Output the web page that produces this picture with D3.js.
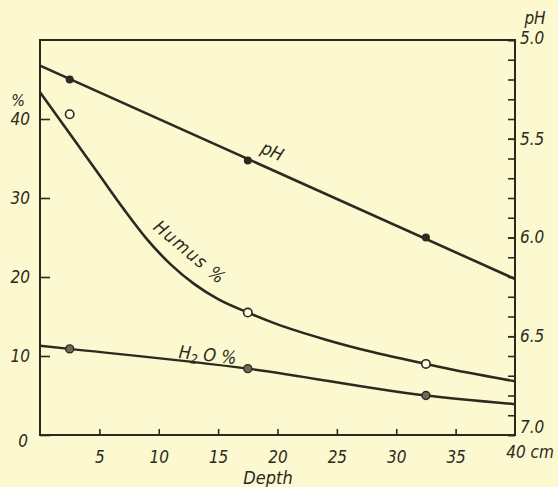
<!DOCTYPE html>
<html><head><meta charset="utf-8">
<script src="https://cdn.jsdelivr.net/npm/d3@7"></script>
<style>
html,body{margin:0;padding:0;background:#fcf8d0;}
svg{display:block;}
text{font-family:"DejaVu Sans Condensed","Liberation Sans Narrow","DejaVu Sans",sans-serif;font-style:italic;fill:#2b2a20;}
</style></head>
<body>
<script>
// Depth (cm) positions of the sampled layers
const sampleDepths = [2.5, 17.5, 32.5];
// pH line (straight) and measured points
const phLineDepth = [0, 40];
const phLineValues = [5.13, 6.21];
const phPoints = [5.20, 5.61, 6.00];
// Humus % fitted curve and measured points
const humusCurveDepth = [0, 5, 7, 9, 11, 13, 15, 17.5, 20, 24, 28, 32.5, 36, 40];
const humusCurveValues = [43.4, 32.9, 28.7, 24.8, 21.6, 19.1, 17.2, 15.5, 14.0, 12.1, 10.5, 9.0, 7.9, 6.8];
const humusPoints = [40.6, 15.5, 9.0];
// H2O % curve and measured points
const waterCurveDepth = [0, 2.5, 17.5, 32.5, 40];
const waterCurveValues = [11.3, 10.9, 8.4, 5.0, 3.9];
const waterPoints = [10.9, 8.4, 5.0];
// Tick labels
const xTicks = [5, 10, 15, 20, 25, 30, 35];
const leftTicks = [0, 10, 20, 30, 40];
const rightMajor = [5.0, 5.5, 6.0, 6.5, 7.0];
const rightMinor = d3.range(50, 71).map(v => v / 10);

const W = 558, H = 487;
const L = 40, R = 515, T = 40, B = 435;
const ink = "#2b2a20";

const svg = d3.select("body").append("svg").attr("width", W).attr("height", H);

const x = d3.scaleLinear().domain([0, 40]).range([L, R]);
const y = d3.scaleLinear().domain([0, 50]).range([B, T]);
const yph = d3.scaleLinear().domain([5, 7]).range([T, B]);

// frame
svg.append("rect").attr("x", L).attr("y", T).attr("width", R - L).attr("height", B - T)
  .attr("fill", "none").attr("stroke", ink).attr("stroke-width", 2);

// left axis
const ga = svg.append("g").attr("transform", `translate(${L},0)`)
  .call(d3.axisLeft(y).tickValues(leftTicks).tickSizeInner(-10).tickSizeOuter(0).tickPadding(10).tickFormat(d3.format("d")));
ga.select(".domain").remove();
ga.selectAll("line").attr("stroke", ink).attr("stroke-width", 1.6);
ga.selectAll("text").attr("font-size", 17).style("font-family", null);
ga.selectAll(".tick").filter(d => d === 0).select("text").attr("dy", "0.7em").attr("x", -12);

// bottom axis
const gb = svg.append("g").attr("transform", `translate(0,${B})`)
  .call(d3.axisBottom(x).tickValues(xTicks).tickSizeInner(-6).tickSizeOuter(0).tickPadding(16).tickFormat(d3.format("d")));
gb.select(".domain").remove();
gb.selectAll("line").attr("stroke", ink).attr("stroke-width", 1.6);
gb.selectAll("text").attr("font-size", 17).style("font-family", null);

// right axis
const gr = svg.append("g").attr("transform", `translate(${R},0)`);
gr.call(d3.axisRight(yph).tickValues(rightMinor).tickSizeInner(-7).tickSizeOuter(0).tickFormat(""));
gr.select(".domain").remove();
gr.selectAll("line").attr("stroke", ink).attr("stroke-width", 1.6);
const gr2 = svg.append("g").attr("transform", `translate(${R},0)`)
  .call(d3.axisRight(yph).tickValues(rightMajor).tickSizeInner(-7).tickSizeOuter(0).tickPadding(5).tickFormat(d3.format(".1f")));
gr2.select(".domain").remove();
gr2.selectAll("line").attr("stroke", ink).attr("stroke-width", 1.6);
gr2.selectAll("text").attr("font-size", 17).style("font-family", null);
gr2.selectAll(".tick").filter(d => d === 7.0).select("text").attr("dy", "-0.15em");
gr2.selectAll(".tick").filter(d => d === 5.0).select("text").attr("dy", "0.2em");

// axis titles
svg.append("text").attr("x", 18).attr("y", 106).attr("text-anchor", "middle").attr("font-size", 16).text("%");
svg.append("text").attr("x", 535).attr("y", 24).attr("text-anchor", "middle").attr("font-size", 17).text("pH");
svg.append("text").attr("x", 268).attr("y", 484).attr("text-anchor", "middle").attr("font-size", 18).text("Depth");
svg.append("text").attr("x", 530).attr("y", 458).attr("text-anchor", "middle").attr("font-size", 17).text("40 cm");

// lines
const lineXY = d3.line().x(d => d[0]).y(d => d[1]).curve(d3.curveMonotoneX);
svg.append("path")
  .attr("d", d3.line()(phLineDepth.map((d, i) => [x(d), yph(phLineValues[i])])))
  .attr("fill", "none").attr("stroke", ink).attr("stroke-width", 2.6);
svg.append("path")
  .attr("d", lineXY(humusCurveDepth.map((d, i) => [x(d), y(humusCurveValues[i])])))
  .attr("fill", "none").attr("stroke", ink).attr("stroke-width", 2.6);
svg.append("path")
  .attr("d", lineXY(waterCurveDepth.map((d, i) => [x(d), y(waterCurveValues[i])])))
  .attr("fill", "none").attr("stroke", ink).attr("stroke-width", 2.4);

// points
svg.selectAll(".ph").data(phPoints).join("circle")
  .attr("cx", (d, i) => x(sampleDepths[i])).attr("cy", d => yph(d)).attr("r", 4)
  .attr("fill", ink);
svg.selectAll(".hu").data(humusPoints).join("circle")
  .attr("cx", (d, i) => x(sampleDepths[i])).attr("cy", d => y(d)).attr("r", 4.2)
  .attr("fill", "#fffbe0").attr("stroke", ink).attr("stroke-width", 1.6);
svg.selectAll(".wa").data(waterPoints).join("circle")
  .attr("cx", (d, i) => x(sampleDepths[i])).attr("cy", d => y(d)).attr("r", 4)
  .attr("fill", "#6b6a58").attr("stroke", ink).attr("stroke-width", 1.4);

// series labels
svg.append("text").attr("transform", "translate(270,157) rotate(23)").attr("text-anchor", "middle").attr("font-size", 18).text("pH");
svg.append("text").attr("transform", "translate(186,257) rotate(40)").attr("text-anchor", "middle").attr("font-size", 18).attr("letter-spacing", 1.5).text("Humus %");
const h2o = svg.append("text").attr("transform", "translate(207,361) rotate(6)").attr("text-anchor", "middle").attr("font-size", 18);
h2o.append("tspan").text("H");
h2o.append("tspan").attr("font-size", 13).attr("dy", 4).text("2");
h2o.append("tspan").attr("dy", -4).text(" O %");
</script>
</body></html>
